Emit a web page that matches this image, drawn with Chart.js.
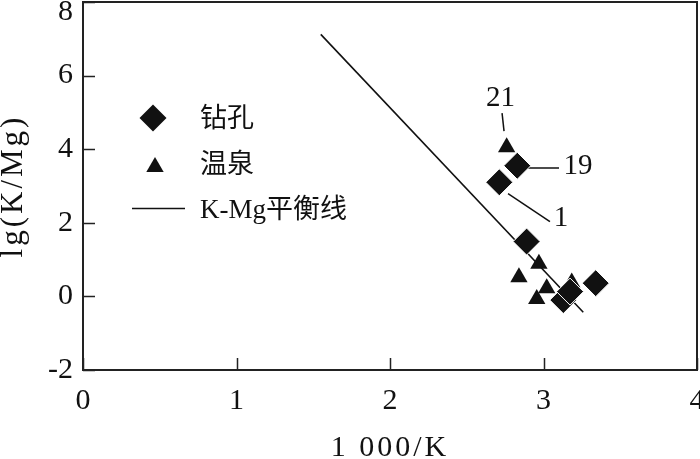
<!DOCTYPE html>
<html>
<head>
<meta charset="utf-8">
<script src="https://cdn.jsdelivr.net/npm/chart.js@4.4.0/dist/chart.umd.min.js"></script>
<style>
	body { margin: 0; background: #fff; }
</style>
</head>
<body>
<canvas id="myChart" width="700" height="459"></canvas>
<script>
// 钻孔 (boreholes)
var wellX = [2.829, 2.712, 2.890, 3.129, 3.173, 3.340];
var wellY = [3.55, 3.10, 1.49, -0.10, 0.13, 0.36];
// 温泉 (hot springs)
var springX = [2.760, 2.970, 2.840, 3.021, 2.956, 3.184];
var springY = [4.05, 0.89, 0.52, 0.22, -0.07, 0.38];
// K-Mg equilibrium line
var lineX = [1.549, 3.259];
var lineY = [7.12, -0.43];

var xTicks = [0, 1, 2, 3, 4];
var yTicks = [-2, 0, 2, 4, 6, 8];

// sample numbers with leader lines
var noteText = ['21', '19', '1'];
var noteX = [2.720, 3.225, 3.114];
var noteY = [5.39, 3.52, 2.13];
var leaderX = [[2.730, 2.743], [2.899, 3.101], [2.769, 3.042]];
var leaderY = [[4.98, 4.49], [3.49, 3.49], [2.79, 2.03]];

var legendText = ['钻孔', '温泉', 'K-Mg平衡线'];

var ink = '#111';
var serif = "'Liberation Serif', 'Noto Sans CJK SC', serif";

function toPoints(xs, ys) {
	var pts = [];
	for (var i = 0; i < xs.length; i++) {
		pts.push({x: xs[i], y: ys[i]});
	}
	return pts;
}

// fixed frame: no auto padding for end labels,
// and the axis titles get a little letter spacing (the print font is wider)
function pinScale(s) {
	s.paddingLeft = 0;
	s.paddingRight = 0;
	s.paddingTop = 0;
	s.paddingBottom = 0;
	if (!s._wideTitle) {
		var drawTitle = s.drawTitle;
		s.drawTitle = function() {
			this.ctx.letterSpacing = '3px';
			drawTitle.apply(this, arguments);
			this.ctx.letterSpacing = '0px';
		};
		s._wideTitle = true;
	}
}

var datasets = [
	{
		label: legendText[2],
		data: toPoints(lineX, lineY),
		showLine: true,
		borderColor: ink,
		borderWidth: 1.6,
		pointRadius: 0,
		order: 3
	},
	{
		label: legendText[0],
		data: toPoints(wellX, wellY),
		pointStyle: 'rectRot',
		pointRadius: 13.5,
		backgroundColor: ink,
		borderColor: '#fff',
		borderWidth: 1,
		order: 1
	},
	{
		label: legendText[1],
		data: toPoints(springX, springY),
		pointStyle: 'triangle',
		pointRadius: 10,
		backgroundColor: ink,
		borderColor: ink,
		borderWidth: 0,
		order: 2
	}
];

for (var i = 0; i < leaderX.length; i++) {
	datasets.push({
		label: 'note' + noteText[i],
		data: toPoints(leaderX[i], leaderY[i]),
		showLine: true,
		borderColor: ink,
		borderWidth: 1.5,
		pointRadius: 0,
		order: 4
	});
}

var framePlugin = {
	id: 'frame',
	afterDraw: function(chart) {
		var ctx = chart.ctx;
		var a = chart.chartArea;
		var xs = chart.scales.x, ys = chart.scales.y;
		ctx.save();
		ctx.strokeStyle = '#222';
		ctx.lineWidth = 2;
		ctx.strokeRect(a.left, a.top, a.right - a.left, a.bottom - a.top);
		// inner ticks
		ctx.lineWidth = 1.5;
		ctx.beginPath();
		yTicks.forEach(function(v) {
			var py = Math.round(ys.getPixelForValue(v)) + 0.5;
			ctx.moveTo(a.left, py);
			ctx.lineTo(a.left + 12, py);
		});
		xTicks.forEach(function(v) {
			var px = Math.round(xs.getPixelForValue(v)) + 0.5;
			ctx.moveTo(px, a.bottom);
			ctx.lineTo(px, a.bottom - 12);
		});
		ctx.stroke();

		// sample numbers
		ctx.fillStyle = ink;
		ctx.font = '29px ' + serif;
		ctx.textAlign = 'center';
		ctx.textBaseline = 'middle';
		for (var i = 0; i < noteText.length; i++) {
			ctx.fillText(noteText[i], xs.getPixelForValue(noteX[i]), ys.getPixelForValue(noteY[i]));
		}

		// legend
		ctx.textAlign = 'left';
		ctx.font = '27px ' + serif;
		ctx.beginPath();
		ctx.moveTo(153, 118 - 13.5);
		ctx.lineTo(153 + 13.5, 118);
		ctx.lineTo(153, 118 + 13.5);
		ctx.lineTo(153 - 13.5, 118);
		ctx.closePath();
		ctx.fill();
		ctx.fillText(legendText[0], 200, 120);

		ctx.beginPath();
		ctx.moveTo(155, 167 - 10);
		ctx.lineTo(155 + 8.7, 167 + 5);
		ctx.lineTo(155 - 8.7, 167 + 5);
		ctx.closePath();
		ctx.fill();
		ctx.fillText(legendText[1], 200, 166);

		ctx.strokeStyle = ink;
		ctx.lineWidth = 1.6;
		ctx.beginPath();
		ctx.moveTo(132, 208.5);
		ctx.lineTo(185, 208.5);
		ctx.stroke();
		ctx.fillText(legendText[2], 200, 211);
		ctx.restore();
	}
};

var ctx = document.getElementById('myChart');

var myChart = new Chart(ctx, {
	type: 'scatter',
	data: { datasets: datasets },
	options: {
		responsive: false,
		animation: false,
		layout: {
			autoPadding: false,
			padding: { top: 2, right: 3, left: 0, bottom: 0 }
		},
		plugins: {
			legend: { display: false },
			tooltip: { enabled: false }
		},
		scales: {
			x: {
				type: 'linear',
				min: 0,
				max: 4,
				afterFit: function(s) {
					s.height = 89;
					pinScale(s);
				},
				afterBuildTicks: function(s) {
					s.ticks = xTicks.map(function(v) { return {value: v}; });
				},
				grid: { display: false, drawTicks: false },
				border: { display: false },
				ticks: {
					padding: 13,
					color: ink,
					maxRotation: 0,
					font: { family: serif, size: 30 }
				},
				title: {
					display: true,
					text: '1 000/K',
					color: ink,
					padding: { top: 0, bottom: -4 },
					font: { family: serif, size: 30, lineHeight: 1 }
				}
			},
			y: {
				type: 'linear',
				min: -2,
				max: 8,
				afterFit: function(s) {
					s.width = 83;
					pinScale(s);
				},
				afterBuildTicks: function(s) {
					s.ticks = yTicks.map(function(v) { return {value: v}; });
				},
				grid: { display: false, drawTicks: false },
				border: { display: false },
				ticks: {
					padding: 10,
					color: ink,
					font: { family: serif, size: 30, lineHeight: 0.7 },
					// top label sits just inside the frame, as in the print
					callback: function(v) { return v === 8 ? ['', '8'] : String(v); }
				},
				title: {
					display: true,
					text: 'lg(K/Mg)',
					color: ink,
					padding: { top: -2, bottom: 0 },
					font: { family: serif, size: 31, lineHeight: 1 }
				}
			}
		}
	},
	plugins: [framePlugin]
});
</script>
</body>
</html>
